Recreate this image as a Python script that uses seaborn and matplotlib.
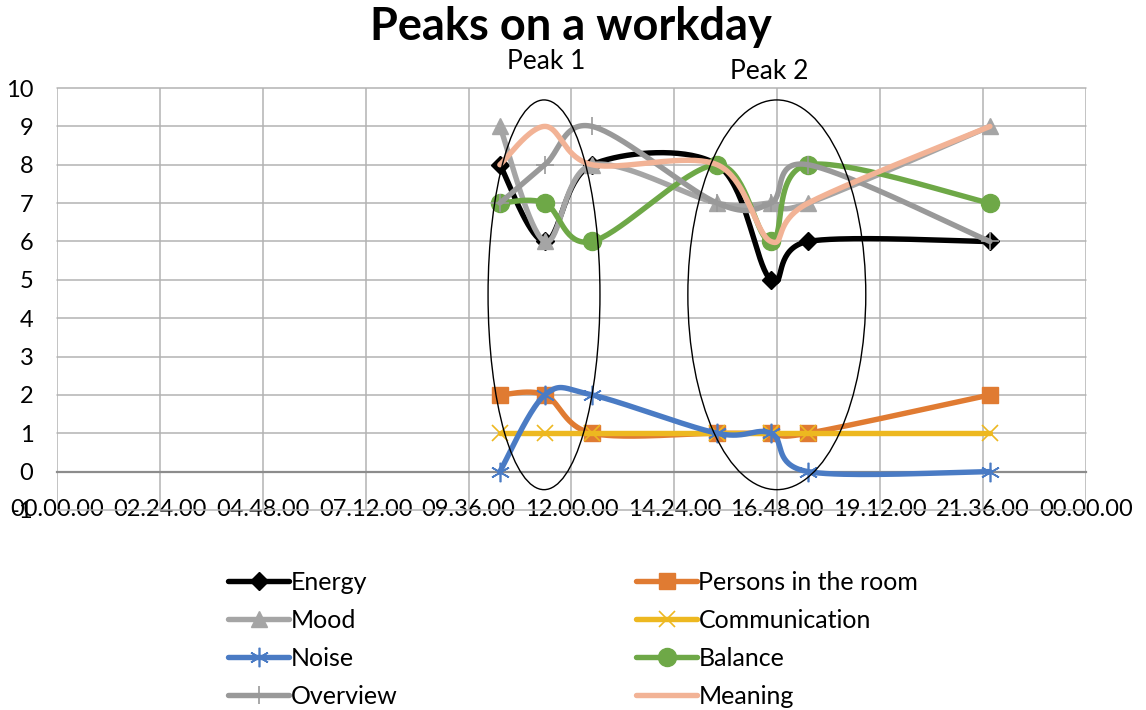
import numpy as np
import matplotlib
matplotlib.use("Agg")
import matplotlib.pyplot as plt
from matplotlib.lines import Line2D
from matplotlib.patches import Ellipse
import seaborn as sns

# Time of each reading (hours after midnight)
hours = [10.33, 11.38, 12.48, 15.40, 16.65, 17.52, 21.76]

energy = [8, 6, 8, 8, 5, 6, 6]
persons = [2, 2, 1, 1, 1, 1, 2]
mood = [9, 6, 8, 7, 7, 7, 9]
communication = [1, 1, 1, 1, 1, 1, 1]
noise = [0, 2, 2, 1, 1, 0, 0]
balance = [7, 7, 6, 8, 6, 8, 7]
overview = [7, 8, 9, 7, 7, 8, 6]
meaning = [8, 9, 8, 8, 6, 7, 9]

x_ticks = [0, 2.4, 4.8, 7.2, 9.6, 12.0, 14.4, 16.8, 19.2, 21.6, 24.0]
x_tick_labels = ["00.00.00", "02.24.00", "04.48.00", "07.12.00", "09.36.00",
                 "12.00.00", "14.24.00", "16.48.00", "19.12.00", "21.36.00",
                 "00.00.00"]
y_ticks = list(range(-1, 11))

peak_labels = ["Peak 1", "Peak 2"]

sns.set_theme(style="white")
plt.rcParams["font.family"] = ["Lato", "DejaVu Sans"]
plt.rcParams["axes.unicode_minus"] = False
plt.rcParams["text.color"] = "black"

fig = plt.figure(figsize=(11.46, 7.10), dpi=100)
ax = fig.add_axes([0.0497, 0.2817, 0.8979, 0.5943])

# approximate pixels per unit, so the smoothing happens in screen-like space
SX, SY = 42.875, 38.4


def smooth(xs, ys, n=40):
    pts = np.column_stack([np.asarray(xs, float) * SX, np.asarray(ys, float) * SY])
    out = []
    for i in range(len(pts) - 1):
        p0 = pts[i - 1] if i > 0 else pts[i]
        p1, p2 = pts[i], pts[i + 1]
        p3 = pts[i + 2] if i + 2 < len(pts) else pts[i + 1]
        c1 = p1 + (p2 - p0) / 6.0
        c2 = p2 - (p3 - p1) / 6.0
        t = np.linspace(0, 1, n)[:, None]
        seg = ((1 - t) ** 3) * p1 + 3 * ((1 - t) ** 2) * t * c1 \
            + 3 * (1 - t) * t ** 2 * c2 + t ** 3 * p2
        out.append(seg if i == 0 else seg[1:])
    seg = np.vstack(out)
    return seg[:, 0] / SX, seg[:, 1] / SY


series = [
    ("Energy", energy, "#000000", "D", 9, 1.0),
    ("Persons in the room", persons, "#E07B32", "s", 12, 1.0),
    ("Mood", mood, "#A5A5A5", "^", 12, 1.0),
    ("Communication", communication, "#EDB820", "x", 12, 1.2),
    ("Noise", noise, "#4A7BC4", (6, 2, 0), 14, 1.2),
    ("Balance", balance, "#6EA847", "o", 13, 1.0),
    ("Overview", overview, "#999999", "+", 13, 1.2),
    ("Meaning", meaning, "#F2B396", None, 0, 1.0),
]

LW = 3.9
handles = {}
for k, (name, vals, color, marker, ms, mew) in enumerate(series):
    sx, sy = smooth(hours, vals)
    sns.lineplot(x=sx, y=sy, ax=ax, color=color, lw=LW, sort=False,
                 estimator=None, zorder=3 + 2 * k, legend=False)
    if marker is not None:
        ax.plot(hours, vals, linestyle="none", marker=marker, ms=ms,
                color=color, mec=color, mfc=color, mew=mew, zorder=4 + 2 * k)
    handles[name] = Line2D([], [], color=color, lw=LW, marker=marker,
                           ms=ms, mec=color, mfc=color, mew=mew)

# Peak ellipses with their captions
for (cx, w), label, lx, ly in zip([(11.36, 2.61), (16.79, 4.15)], peak_labels,
                                  [11.41, 16.61], [10.68, 10.42]):
    ax.add_patch(Ellipse((cx, 4.61), w, 10.16, fill=False, ec="black",
                         lw=1.0, zorder=30))
    ax.text(lx, ly, label, ha="center", va="center", fontsize=19,
            color="black", clip_on=False)

ax.set_xlim(0, 24)
ax.set_ylim(-1, 10)
ax.set_xticks(x_ticks)
ax.set_xticklabels(x_tick_labels)
ax.set_yticks(y_ticks)
ax.set_yticklabels([str(v) for v in y_ticks])
ax.tick_params(axis="x", length=0, pad=20, labelsize=17, colors="black")
ax.tick_params(axis="y", length=0, pad=17, labelsize=17, colors="black")
ax.grid(True, color="#B3B3B3", lw=1.1)
ax.set_axisbelow(True)
for gl in ax.get_ygridlines() + ax.get_xgridlines():
    gl.set_clip_on(False)
for side in ["top", "right", "left"]:
    ax.spines[side].set_visible(False)
ax.spines["bottom"].set_position(("data", 0))
ax.spines["bottom"].set_color("#8C8C8C")
ax.spines["bottom"].set_linewidth(1.6)
ax.spines["bottom"].set_zorder(2)

fig.text(0.498, 0.962, "Peaks on a workday", ha="center", va="center",
         fontsize=32.5, fontweight="bold", color="black")

left_names = ["Energy", "Mood", "Noise", "Overview"]
right_names = ["Persons in the room", "Communication", "Balance", "Meaning"]
for names, x0 in [(left_names, 228 / 1146), (right_names, 636 / 1146)]:
    fig.legend([handles[n] for n in names], names, loc="upper left",
               bbox_to_anchor=(x0, 1 - 571 / 710), frameon=False,
               fontsize=18, handlelength=2.45, handletextpad=0.05,
               borderpad=0, borderaxespad=0, labelspacing=0.6)

fig.savefig("out.png", dpi=100)
